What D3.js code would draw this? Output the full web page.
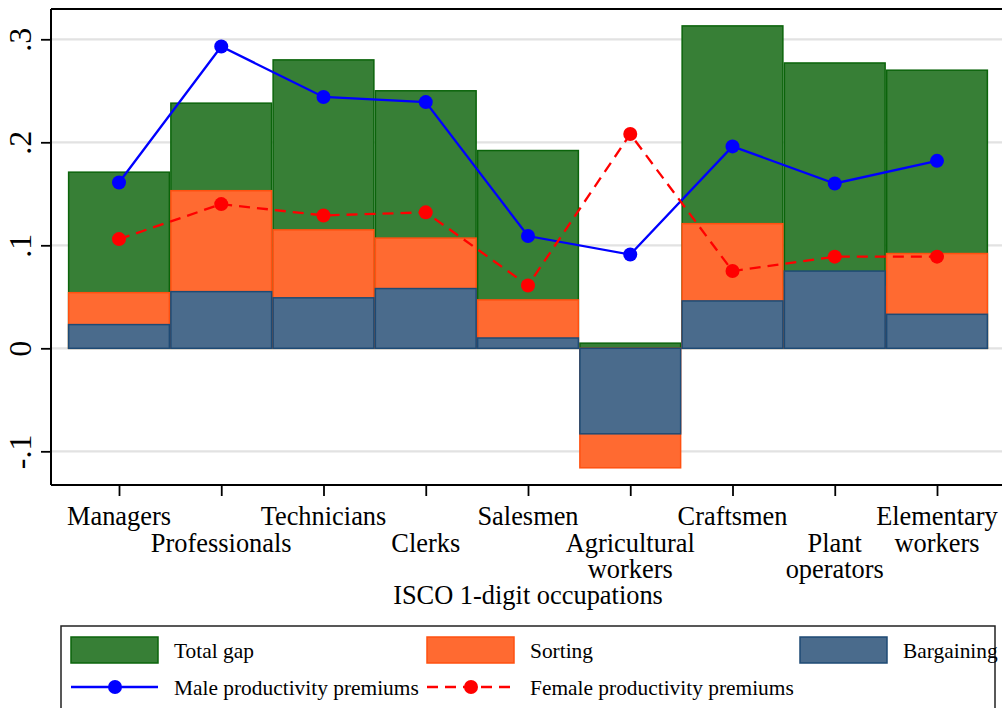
<!DOCTYPE html>
<html><head><meta charset="utf-8">
<script src="https://cdn.jsdelivr.net/npm/d3@7"></script>
<style>
html,body{margin:0;padding:0;background:#fff;}
text{font-family:"Liberation Serif","Times New Roman",serif;fill:#000;}
</style></head>
<body><svg id="chart" width="1002" height="708"></svg>
<script>
// ---- data ----
const categories = ["Managers","Professionals","Technicians","Clerks","Salesmen","Agricultural workers","Craftsmen","Plant operators","Elementary workers"];
const categoryLabelLines = [["Managers"],["Professionals"],["Technicians"],["Clerks"],["Salesmen"],["Agricultural","workers"],["Craftsmen"],["Plant","operators"],["Elementary","workers"]];
const totalGap   = [0.171, 0.238, 0.280, 0.250, 0.192, 0.005, 0.313, 0.277, 0.270];
const sorting    = [0.054, 0.153, 0.115, 0.107, 0.047, -0.116, 0.121, 0.060, 0.092];
const bargaining = [0.023, 0.055, 0.049, 0.058, 0.010, -0.083, 0.046, 0.075, 0.033];
const malePrem   = [0.161, 0.293, 0.244, 0.239, 0.109, 0.091, 0.196, 0.160, 0.182];
const femalePrem = [0.106, 0.140, 0.129, 0.132, 0.061, 0.208, 0.075, 0.089, 0.089];
const yTicks = [-0.1, 0, 0.1, 0.2, 0.3];
const yTickLabels = ["-.1", "0", ".1", ".2", ".3"];
const xTitle = "ISCO 1-digit occupations";
const legendLabels = ["Total gap","Sorting","Bargaining","Male productivity premiums","Female productivity premiums"];

// ---- styles ----
const C = {
  green:"#377f36", greenEdge:"#0b640b",
  orange:"#ff6a31", orangeEdge:"#ff5010",
  blue:"#4a6b8c", blueEdge:"#1e4a74",
  male:"#0000ff", female:"#ff0000", grid:"#e2e2e2"
};

const svg = d3.select("#chart");
const L = 51, R = 1005, T = 9, B = 485;
const idx = categories.map((d,i)=>i+1);
const x = d3.scaleLinear().domain([0.335, 9.665]).range([L, R]);
const y = d3.scaleLinear().domain([-0.1327, 0.3294]).range([B, T]);
const bw = x(2) - x(1);

// grid
svg.append("g").selectAll("line").data(yTicks).join("line")
  .attr("x1", L).attr("x2", R).attr("y1", d=>y(d)).attr("y2", d=>y(d))
  .attr("stroke", C.grid).attr("stroke-width", 2.2);

// bars
function bars(vals, fill, edge){
  svg.append("g").selectAll("rect").data(vals).join("rect")
    .attr("x", (d,i)=>x(idx[i]) - bw/2 + 0.75)
    .attr("width", bw - 1.5)
    .attr("y", d=>Math.min(y(d), y(0)))
    .attr("height", d=>Math.abs(y(d)-y(0)))
    .attr("fill", fill).attr("stroke", edge).attr("stroke-width", 1.5);
}
bars(totalGap, C.green, C.greenEdge);
bars(sorting, C.orange, C.orangeEdge);
bars(bargaining, C.blue, C.blueEdge);

// lines
const line = d3.line().x((d,i)=>x(idx[i])).y(d=>y(d));
svg.append("path").datum(malePrem).attr("d", line).attr("fill","none")
  .attr("stroke", C.male).attr("stroke-width", 2.3);
svg.append("path").datum(femalePrem).attr("d", line).attr("fill","none")
  .attr("stroke", C.female).attr("stroke-width", 2.3).attr("stroke-dasharray","11,7");
svg.append("g").selectAll("circle").data(malePrem).join("circle")
  .attr("cx",(d,i)=>x(idx[i])).attr("cy",d=>y(d)).attr("r",7).attr("fill",C.male);
svg.append("g").selectAll("circle").data(femalePrem).join("circle")
  .attr("cx",(d,i)=>x(idx[i])).attr("cy",d=>y(d)).attr("r",7).attr("fill",C.female);

// frame top
svg.append("line").attr("x1",L).attr("x2",R).attr("y1",T).attr("y2",T)
  .attr("stroke","#000").attr("stroke-width",2);

// y axis
const yAxis = d3.axisLeft(y).tickValues(yTicks).tickSize(10)
  .tickFormat((d,i)=>yTickLabels[i]);
const gy = svg.append("g").attr("transform",`translate(${L},0)`).call(yAxis);
gy.select(".domain").attr("stroke","#000").attr("stroke-width",2).attr("d",`M0,${T}V${B}`);
gy.selectAll(".tick line").attr("stroke","#000").attr("stroke-width",1.8);
gy.selectAll(".tick text").attr("font-size",32).attr("font-family","Liberation Serif")
  .attr("text-anchor","middle").attr("dy",0)
  .attr("transform","translate(-20,0) rotate(-90)").attr("x",0).attr("y",0);

// x axis
const xAxis = d3.axisBottom(x).tickValues(idx).tickSize(11).tickFormat("");
const gx = svg.append("g").attr("transform",`translate(0,${B})`).call(xAxis);
gx.select(".domain").attr("stroke","#000").attr("stroke-width",2).attr("d",`M${L},0H${R}`);
gx.selectAll(".tick line").attr("stroke","#000").attr("stroke-width",1.8);

const rowBase = 525, rowH = 26.5;
categoryLabelLines.forEach((lines,i)=>{
  const start = (i % 2 === 0) ? 0 : 1;
  lines.forEach((t,j)=>{
    svg.append("text").attr("x", x(idx[i])).attr("y", rowBase + (start+j)*rowH)
      .attr("text-anchor","middle").attr("font-size",26.4).text(t);
  });
});
svg.append("text").attr("x", (L+R)/2).attr("y", 604).attr("text-anchor","middle")
  .attr("font-size",26.4).text(xTitle);

// legend
const lg = svg.append("g");
lg.append("rect").attr("x",61).attr("y",626).attr("width",934).attr("height",100)
  .attr("fill","#fff").attr("stroke","#222").attr("stroke-width",1.5);
const sw = [[71, C.green, C.greenEdge],[427, C.orange, C.orangeEdge],[800, C.blue, C.blueEdge]];
sw.forEach((s,i)=>{
  lg.append("rect").attr("x",s[0]).attr("y",637).attr("width",87).attr("height",26)
    .attr("fill",s[1]).attr("stroke",s[2]).attr("stroke-width",1.5);
  lg.append("text").attr("x",s[0]+103).attr("y",658).attr("font-size",21.4).text(legendLabels[i]);
});
[[71, C.male, null],[427, C.female, "11,7"]].forEach((s,i)=>{
  const l = lg.append("line").attr("x1",s[0]).attr("x2",s[0]+87).attr("y1",687).attr("y2",687)
    .attr("stroke",s[1]).attr("stroke-width",2.3);
  if (s[2]) l.attr("stroke-dasharray", s[2]);
  lg.append("circle").attr("cx",s[0]+44).attr("cy",687).attr("r",7).attr("fill",s[1]);
  lg.append("text").attr("x",s[0]+103).attr("y",695).attr("font-size",21.4).text(legendLabels[3+i]);
});
</script></body></html>
